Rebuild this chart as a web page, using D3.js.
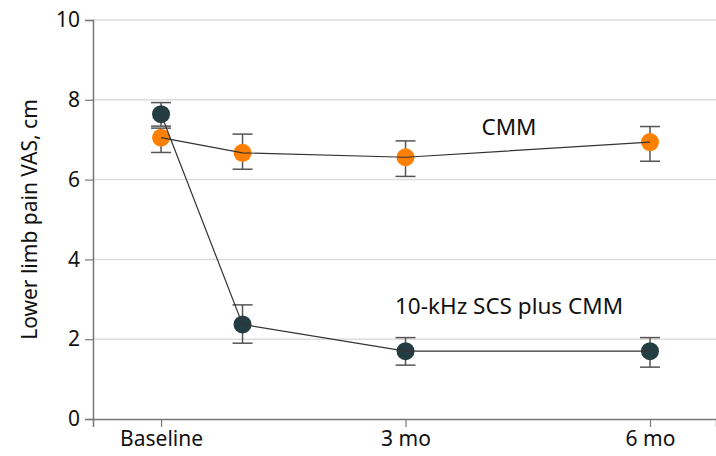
<!DOCTYPE html>
<html>
<head>
<meta charset="utf-8">
<script src="https://cdn.jsdelivr.net/npm/d3@7/dist/d3.min.js"></script>
<style>
  body { margin: 0; background: #fff; }
  svg { display: block; font-family: "Noto Sans", sans-serif; }
</style>
</head>
<body>
<div id="chart"></div>
<script>
// months after baseline
var months = [0, 1, 3, 6];
var tickMonths = [0, 3, 6];
var tickLabels = ["Baseline", "3 mo", "6 mo"];

// CMM alone
var cmmMean = [7.05, 6.67, 6.56, 6.94];
var cmmLow = [6.68, 6.26, 6.08, 6.46];
var cmmHigh = [7.29, 7.14, 6.97, 7.33];

// 10-kHz SCS plus CMM
var scsMean = [7.64, 2.37, 1.70, 1.70];
var scsLow = [7.34, 1.90, 1.35, 1.30];
var scsHigh = [7.93, 2.86, 2.04, 2.04];

var yTicks = [0, 2, 4, 6, 8, 10];

var width = 716,
    height = 456,
    margin = {top: 20, right: 0, bottom: 37, left: 93};

var svg = d3.select("#chart").append("svg")
    .attr("width", width)
    .attr("height", height);

var x = d3.scaleLinear()
    .domain([-0.835, 6.81])
    .range([margin.left, width - margin.right]);

var y = d3.scaleLinear()
    .domain([0, 10])
    .range([height - margin.bottom, margin.top]);

// gridlines
svg.append("g")
    .selectAll("line")
    .data(yTicks.filter(function(d) { return d > 0; }))
    .enter().append("line")
    .attr("x1", margin.left)
    .attr("x2", width)
    .attr("y1", function(d) { return y(d); })
    .attr("y2", function(d) { return y(d); })
    .attr("stroke", "#dcdcdc")
    .attr("stroke-width", 1.5);

// y axis
var yAxis = svg.append("g")
    .attr("transform", "translate(" + margin.left + ",0)")
    .call(d3.axisLeft(y).tickValues(yTicks).tickSize(8).tickPadding(5));
yAxis.select(".domain").attr("stroke", "#777").attr("stroke-width", 1.5);
yAxis.selectAll(".tick line").attr("stroke", "#777").attr("stroke-width", 1.2);
yAxis.selectAll("text").attr("font-size", 21).attr("fill", "#111")
    .attr("font-family", "Noto Sans");

// x axis
var xAxis = svg.append("g")
    .attr("transform", "translate(0," + y(0) + ")")
    .call(d3.axisBottom(x).tickValues(tickMonths).tickSize(8).tickPadding(4)
        .tickFormat(function(d, i) { return tickLabels[i]; }));
xAxis.select(".domain").attr("stroke", "#777").attr("stroke-width", 1.5);
xAxis.selectAll(".tick line").attr("stroke", "#777").attr("stroke-width", 1.2);
xAxis.selectAll("text").attr("font-size", 21).attr("fill", "#111")
    .attr("font-family", "Noto Sans");

// y label
svg.append("text")
    .attr("transform", "translate(37," + ((margin.top + y(0)) / 2) + ") rotate(-90)")
    .attr("text-anchor", "middle")
    .attr("font-size", 21)
    .attr("fill", "#111")
    .text("Lower limb pain VAS, cm");

var groups = [
    {mean: cmmMean, low: cmmLow, high: cmmHigh, color: "#ff7f00"},
    {mean: scsMean, low: scsLow, high: scsHigh, color: "#243d42"}
];

var line = d3.line()
    .x(function(d, i) { return x(months[i]); })
    .y(function(d) { return y(d); });

groups.forEach(function(g) {
    var eb = svg.append("g").attr("stroke", "#555").attr("stroke-width", 1.5);
    months.forEach(function(m, i) {
        eb.append("line")
            .attr("x1", x(m)).attr("x2", x(m))
            .attr("y1", y(g.low[i])).attr("y2", y(g.high[i]));
        [g.low[i], g.high[i]].forEach(function(v) {
            eb.append("line")
                .attr("x1", x(m) - 10).attr("x2", x(m) + 10)
                .attr("y1", y(v)).attr("y2", y(v));
        });
    });
});

groups.forEach(function(g) {
    svg.append("g")
        .selectAll("circle")
        .data(g.mean)
        .enter().append("circle")
        .attr("cx", function(d, i) { return x(months[i]); })
        .attr("cy", function(d) { return y(d); })
        .attr("r", 9)
        .attr("fill", g.color);
});

groups.forEach(function(g) {
    svg.append("path")
        .datum(g.mean)
        .attr("d", line)
        .attr("fill", "none")
        .attr("stroke", "#333")
        .attr("stroke-width", 1.2);
});

svg.append("text")
    .attr("x", 509).attr("y", 135)
    .attr("text-anchor", "middle")
    .attr("font-size", 22.5)
    .attr("fill", "#111")
    .text("CMM");

svg.append("text")
    .attr("x", 509).attr("y", 314)
    .attr("text-anchor", "middle")
    .attr("font-size", 22.5)
    .attr("fill", "#111")
    .text("10-kHz SCS plus CMM");
</script>
</body>
</html>
